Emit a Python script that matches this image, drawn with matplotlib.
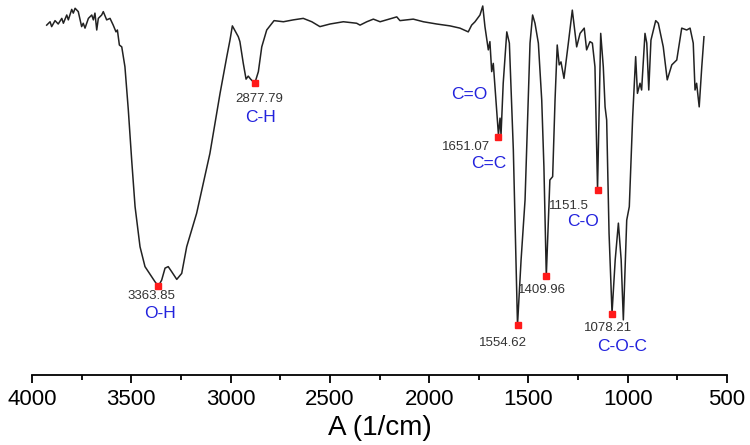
import matplotlib

matplotlib.use("Agg")
import matplotlib.pyplot as plt
from matplotlib.ticker import MultipleLocator

plt.rcParams["font.family"] = ["Liberation Sans", "DejaVu Sans"]

# FTIR spectrum (wavenumber, transmittance %)
wavenumber = [
    3926, 3909, 3901, 3884, 3868, 3850, 3842, 3825, 3817, 3800, 3792, 3783,
    3767, 3750, 3742, 3733, 3716, 3699, 3691, 3683, 3674, 3666, 3649, 3641,
    3624, 3607, 3591, 3577, 3570, 3560, 3548, 3532, 3515, 3498, 3481, 3456,
    3431, 3397, 3381, 3364, 3347, 3330, 3314, 3296, 3271, 3246, 3221, 3171,
    3104, 3053, 3019, 3003, 2991, 2961, 2953, 2936, 2922, 2911, 2899, 2878,
    2860, 2843, 2818, 2781, 2734, 2684, 2634, 2591, 2550, 2499, 2432, 2365,
    2348, 2314, 2281, 2247, 2163, 2147, 2080, 2029, 1962, 1895, 1845, 1803,
    1786, 1769, 1744, 1730, 1719, 1702, 1694, 1685, 1677, 1660, 1651, 1643,
    1638, 1627, 1609, 1596, 1576, 1555, 1537, 1517, 1501, 1492, 1479, 1467,
    1450, 1433, 1422, 1410, 1392, 1378, 1366, 1355, 1345, 1336, 1321, 1299,
    1279, 1257, 1240, 1219, 1207, 1190, 1178, 1165, 1152, 1136, 1123, 1114,
    1106, 1094, 1079, 1063, 1047, 1033, 1022, 1005, 992, 975, 960, 951,
    938, 930, 913, 904, 894, 883, 859, 846, 821, 801, 778, 753,
    728, 703, 686, 670, 661, 653, 640, 627, 616,
]
transmittance = [
    93.3, 94.2, 92.9, 94.5, 93.6, 95.1, 93.8, 96.0, 94.7, 97.5, 96.5, 97.8,
    96.9, 92.9, 93.8, 92.5, 95.1, 96.0, 94.7, 96.5, 92.0, 95.1, 96.0, 96.9,
    94.7, 95.1, 93.3, 91.5, 92.0, 88.0, 87.5, 82.2, 70.7, 57.3, 44.9, 34.2,
    28.9, 26.2, 24.9, 23.7, 25.3, 28.5, 28.9, 27.5, 25.5, 27.1, 34.2, 43.1,
    59.1, 75.1, 84.9, 89.3, 93.1, 90.2, 88.9, 83.1, 78.9, 79.7, 78.9, 77.8,
    80.9, 87.5, 92.0, 94.5, 94.2, 94.7, 95.1, 94.2, 92.9, 93.6, 94.2, 93.8,
    93.3, 94.2, 94.9, 94.2, 95.5, 94.5, 94.9, 94.2, 93.6, 93.1, 92.5, 91.5,
    93.3, 94.2, 96.0, 98.4, 92.9, 86.7, 88.9, 80.9, 83.1, 70.7, 64.0, 68.5,
    64.0, 77.8, 91.5, 88.5, 60.0, 13.3, 30.7, 46.7, 73.3, 88.5, 96.0, 93.8,
    88.5, 73.3, 55.5, 26.4, 52.0, 52.9, 73.3, 88.0, 82.7, 83.5, 79.1, 88.5,
    97.3, 87.5, 91.1, 92.5, 86.7, 88.9, 88.5, 82.2, 49.6, 91.1, 82.2, 71.5,
    68.0, 37.8, 16.5, 30.7, 40.5, 30.7, 14.7, 41.3, 44.9, 68.9, 84.9, 75.1,
    77.8, 76.0, 91.1, 88.5, 76.0, 89.3, 94.5, 93.8, 87.5, 78.7, 82.7, 84.0,
    92.5, 92.0, 92.5, 88.5, 76.0, 77.8, 71.5, 82.2, 90.2,
]

# labelled peaks
peak_wn = [3363.85, 2877.79, 1651.07, 1554.62, 1409.96, 1151.5, 1078.21]
peak_t = [23.7, 77.8, 63.5, 13.3, 26.4, 49.3, 16.3]
peak_text = ["3363.85", "2877.79", "1651.07", "1554.62", "1409.96", "1151.5", "1078.21"]
peak_text_pos = [(3397, 21.1), (2857, 73.6), (1814, 60.8), (1627, 8.5),
                 (1433, 22.7), (1294, 45.1), (1101, 12.5)]

bond_labels = ["O-H", "C-H", "C=O", "C=C", "C-O", "C-O-C"]
bond_pos = [(3355, 16.5), (2847, 68.8), (1798, 74.7), (1702, 56.5),
            (1227, 40.9), (1027, 7.7)]

fig = plt.figure(figsize=(7.5, 4.45), dpi=100)
ax = fig.add_axes([32 / 750, 70 / 445, 695 / 750, 375 / 445])

ax.plot(wavenumber, transmittance, color="#222222", linewidth=1.1)
ax.plot(peak_wn, peak_t, linestyle="none", marker="s", markersize=5,
        color="#ff1a1a", zorder=3)

for label, (x, y) in zip(peak_text, peak_text_pos):
    ax.text(x, y, label, fontsize=9.5, color="#333333", ha="center", va="center")
for label, (x, y) in zip(bond_labels, bond_pos):
    ax.text(x, y, label, fontsize=12.5, color="#2222dd", ha="center", va="center")

ax.set_xlim(4000, 500)
ax.set_ylim(0, 100)
ax.xaxis.set_major_locator(MultipleLocator(500))
ax.xaxis.set_minor_locator(MultipleLocator(250))
ax.tick_params(axis="x", which="major", direction="out", length=6, width=1.3,
               labelsize=16, pad=4)
ax.tick_params(axis="x", which="minor", direction="out", length=3.5, width=1.3)
ax.set_yticks([])
for side in ["left", "right", "top"]:
    ax.spines[side].set_visible(False)
ax.spines["bottom"].set_linewidth(1.3)
ax.set_xlabel("A (1/cm)", fontsize=20, labelpad=4)

fig.savefig("out.png", dpi=100)
